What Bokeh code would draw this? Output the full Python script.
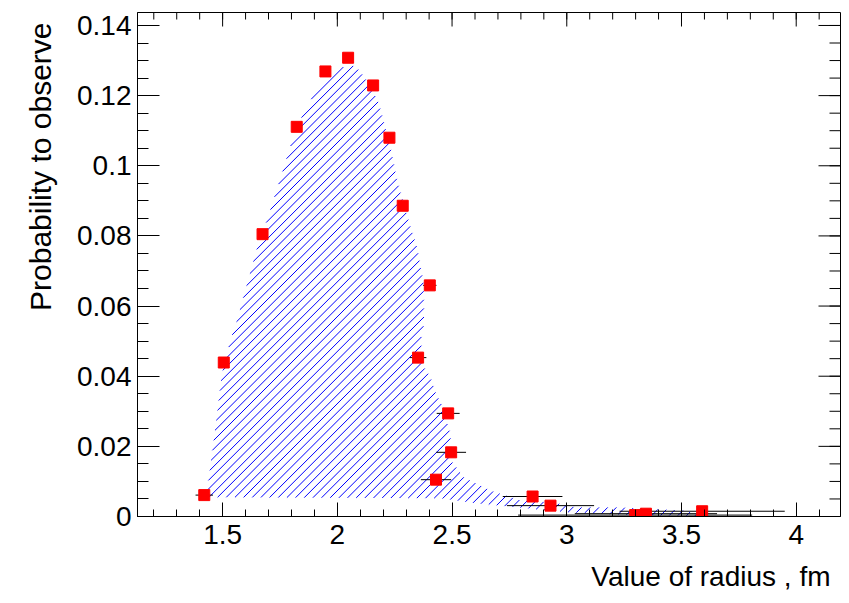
import math
from bokeh.plotting import figure
from bokeh.models import FixedTicker, PrintfTickFormatter, Range1d, ColumnDataSource, Title
from bokeh.embed import file_html
from bokeh.resources import INLINE

# Measured points: radius (fm), probability, horizontal uncertainty
radius = [1.420, 1.505, 1.674, 1.823, 1.948, 2.047, 2.156, 2.227, 2.285, 2.403,
          2.352, 2.483, 2.496, 2.430, 2.851, 2.929, 3.298, 3.345, 3.590]
prob = [0.0061, 0.0439, 0.0805, 0.1111, 0.1269, 0.1308, 0.1229, 0.1080, 0.0886, 0.0659,
        0.0453, 0.0294, 0.0183, 0.0105, 0.0057, 0.0031, 0.0004, 0.0008, 0.0015]
radius_err = [0.038, 0.015, 0.015, 0.015, 0.015, 0.015, 0.015, 0.015, 0.015, 0.029,
              0.036, 0.050, 0.065, 0.066, 0.130, 0.190, 0.510, 0.310, 0.360]

# Hatched band: upper edge (left to right) and lower edge (left to right)
band_upper_x = [1.430, 1.446, 1.476, 1.497, 1.534, 1.563, 1.599, 1.650, 1.694, 1.752,
                1.795, 1.846, 1.897, 1.960, 2.020, 2.060, 2.092, 2.115, 2.150, 2.180,
                2.200, 2.231, 2.260, 2.288, 2.318, 2.347, 2.376, 2.378, 2.364, 2.376,
                2.405, 2.435, 2.449, 2.493, 2.495, 2.551, 2.667, 2.798, 2.941, 3.040,
                3.230, 3.510, 3.580]
band_upper_y = [0.0065, 0.0141, 0.0293, 0.0408, 0.0503, 0.0560, 0.0646, 0.0765, 0.0846, 0.0965,
                0.1055, 0.1141, 0.1203, 0.1250, 0.1280, 0.1289, 0.1274, 0.1255, 0.1220, 0.1179,
                0.1131, 0.1055, 0.0960, 0.0894, 0.0827, 0.0769, 0.0665, 0.0551, 0.0503, 0.0427,
                0.0398, 0.0341, 0.0331, 0.0236, 0.0160, 0.0112, 0.0074, 0.0046, 0.0040, 0.0026,
                0.0026, 0.0017, 0.0006]
band_lower_x = [1.430, 2.450, 2.600, 2.800, 3.000, 3.300, 3.580]
band_lower_y = [0.0055, 0.0052, 0.0038, 0.0025, 0.0012, 0.0004, 0.0002]

x_major = [1.5, 2.0, 2.5, 3.0, 3.5, 4.0]
x_minor = [round(1.2 + 0.1 * i, 1) for i in range(30)]
y_major = [0.0, 0.02, 0.04, 0.06, 0.08, 0.10, 0.12, 0.14]
y_minor = [round(0.005 * i, 3) for i in range(29)]

FONT = "Liberation Sans"
W, H = 849, 603
LEFT, RIGHT, TOP, BOTTOM = 137, 9, 12, 87
X0, X1 = 1.129, 4.193
Y0, Y1 = 0.0, 0.1437
HATCH_STEP = 8.7  # horizontal distance between hatch lines, px

p = figure(width=W, height=H, output_backend="svg", toolbar_location=None,
           x_range=Range1d(X0, X1), y_range=Range1d(Y0, Y1),
           min_border_left=LEFT, min_border_right=RIGHT, min_border_top=TOP,
           min_border_bottom=BOTTOM, background_fill_color="white",
           border_fill_color="white")
p.grid.visible = False
p.outline_line_color = "black"
p.outline_line_width = 1

# data units per pixel
px_x = (X1 - X0) / (W - LEFT - RIGHT)
px_y = (Y1 - Y0) / (H - TOP - BOTTOM)

for ax in p.xaxis:
    ax.ticker = FixedTicker(ticks=x_major, minor_ticks=x_minor)
    ax.major_tick_in = 14
    ax.minor_tick_in = 7
    ax.major_label_standoff = 8
for ax in p.yaxis:
    ax.ticker = FixedTicker(ticks=y_major, minor_ticks=y_minor)
    ax.major_tick_in = 22
    ax.minor_tick_in = 11
    ax.major_label_standoff = 6
for ax in list(p.xaxis) + list(p.yaxis):
    ax.major_tick_out = 0
    ax.minor_tick_out = 0
    ax.axis_line_color = "black"
    ax.major_tick_line_color = "black"
    ax.minor_tick_line_color = "black"
    ax.formatter = PrintfTickFormatter(format="%g")
    ax.major_label_text_font = FONT
    ax.major_label_text_font_size = "28px"
    ax.major_label_text_color = "black"

# axis titles, placed at the far ends of the axes
p.add_layout(Title(text="Value of radius , fm", align="right", offset=10, standoff=24,
                   text_font=FONT, text_font_size="28px", text_font_style="normal",
                   text_color="black"), "below")
p.add_layout(Title(text="Probability to observe", align="right", offset=10, standoff=36,
                   text_font=FONT, text_font_size="30px", text_font_style="normal",
                   text_color="black"), "left")

# mirrored ticks on the top and right edges of the frame
x_minor_in = [t for t in x_minor if X0 < t < X1]
p.segment(x0=x_major, y0=[Y1] * len(x_major), x1=x_major,
          y1=[Y1 - 14 * px_y] * len(x_major), line_color="black", line_width=1)
p.segment(x0=x_minor_in, y0=[Y1] * len(x_minor_in), x1=x_minor_in,
          y1=[Y1 - 7 * px_y] * len(x_minor_in), line_color="black", line_width=1)
p.segment(x0=[X1] * len(y_major), y0=y_major, x1=[X1 - 22 * px_x] * len(y_major),
          y1=y_major, line_color="black", line_width=1)
p.segment(x0=[X1] * len(y_minor), y0=y_minor, x1=[X1 - 11 * px_x] * len(y_minor),
          y1=y_minor, line_color="black", line_width=1)


def hatch_45(xs, ys, step):
    """Clip 45-degree screen lines against the polygon (xs, ys); returns data-space segments."""
    u = [(x - X0) / px_x for x in xs]
    v = [(y - Y0) / px_y for y in ys]
    n = len(u)
    s = [v[i] - u[i] for i in range(n)]
    c = math.ceil(min(s) / step) * step
    x0s, y0s, x1s, y1s = [], [], [], []
    while c <= max(s):
        cuts = []
        for i in range(n):
            j = (i + 1) % n
            a, b = s[i] - c, s[j] - c
            if (a > 0) != (b > 0):
                t = a / (a - b)
                cuts.append(u[i] + t * (u[j] - u[i]))
        cuts.sort()
        for k in range(0, len(cuts) - 1, 2):
            ua, ub = cuts[k], cuts[k + 1]
            x0s.append(X0 + ua * px_x)
            y0s.append(Y0 + (ua + c) * px_y)
            x1s.append(X0 + ub * px_x)
            y1s.append(Y0 + (ub + c) * px_y)
        c += step
    return x0s, y0s, x1s, y1s


band_x = band_upper_x + band_lower_x[::-1]
band_y = band_upper_y + band_lower_y[::-1]
hx0, hy0, hx1, hy1 = hatch_45(band_x, band_y, HATCH_STEP)
p.segment(x0=hx0, y0=hy0, x1=hx1, y1=hy1, line_color="#0000ff", line_width=1)

src = ColumnDataSource(data=dict(
    x=radius, y=prob,
    lo=[r - e for r, e in zip(radius, radius_err)],
    hi=[r + e for r, e in zip(radius, radius_err)],
))
p.segment(x0="lo", y0="y", x1="hi", y1="y", source=src, line_color="black", line_width=1)
p.scatter(x="x", y="y", source=src, marker="square", size=11,
          fill_color="#ff0000", line_color="#ff0000")

open("out.html", "w").write(file_html(p, INLINE))
